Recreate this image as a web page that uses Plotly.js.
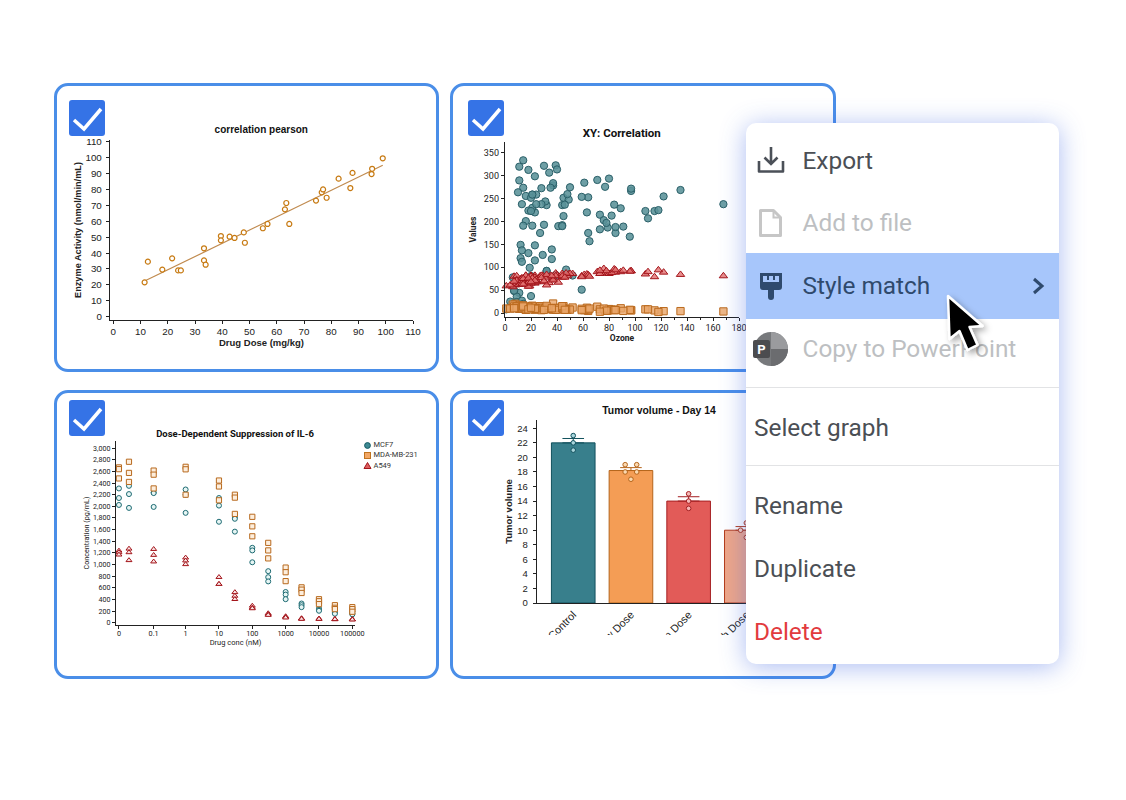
<!DOCTYPE html>
<html><head><meta charset="utf-8">
<script src="https://cdn.plot.ly/plotly-3.0.1.min.js"></script>
<style>
html,body{margin:0;padding:0;background:#fff;width:1126px;height:800px;overflow:hidden;font-family:Roboto,sans-serif}
.card{position:absolute;box-sizing:border-box;border:3px solid #4a8ee8;border-radius:14px;background:#fff;width:385px;height:289px}
.plot{position:absolute;overflow:hidden}
.chk{position:absolute;width:36px;height:36px;background:#3573e6;border-radius:3px;z-index:5}
.legend{position:absolute;left:362.500px;top:440px;font:7.500px Roboto,sans-serif;color:#333;z-index:6}
.legend div{height:10.400px;line-height:10.400px;display:flex;align-items:center}
.legend svg{width:9px;height:9px;margin-right:2px}
#menu{position:absolute;left:746px;top:123px;width:313px;height:541px;background:#fff;border-radius:10px;box-shadow:0 3px 26px rgba(55,95,225,.42);z-index:10}
.mi{position:absolute;font:24.400px Roboto,sans-serif;color:#4b4f55;line-height:30px;white-space:nowrap;transform:translateY(-50%)}
.dis{color:#bdbfc2}
#hl{position:absolute;left:0;top:130px;width:313px;height:66px;background:#a7c6fb}
.sep{position:absolute;left:0;width:313px;height:1px;background:#e2e3e5}
#over{position:absolute;left:0;top:0;z-index:20;pointer-events:none}
</style></head><body>
<div class="card" style="left:54px;top:83px"></div>
<div class="card" style="left:450px;top:83px;width:386px"></div>
<div class="card" style="left:54px;top:390px"></div>
<div class="card" style="left:450px;top:390px;width:386px"></div>
<div id="p1" class="plot"></div><div id="p2" class="plot"></div><div id="p3" class="plot"></div><div id="p4" class="plot"></div>
<div class="legend" id="lg"></div>
<div id="menu">
<div id="hl"></div>
<div class="mi" style="left:56.500px;top:37.500px">Export</div>
<div class="mi dis" style="left:56.500px;top:99.500px">Add to file</div>
<div class="mi" style="left:56.500px;top:162.500px;color:#2f4a6d">Style match</div>
<div class="mi dis" style="left:56.500px;top:225.500px">Copy to PowerPoint</div>
<div class="sep" style="top:264px"></div>
<div class="mi" style="left:8px;top:304.500px">Select graph</div>
<div class="sep" style="top:342px"></div>
<div class="mi" style="left:8px;top:382.500px">Rename</div>
<div class="mi" style="left:8px;top:445.500px">Duplicate</div>
<div class="mi" style="left:8px;top:508.500px;color:#e23b3e">Delete</div>
</div>
<svg id="over" width="1126" height="800" viewBox="0 0 1126 800">
<defs><filter id="cs" x="-50%" y="-50%" width="200%" height="200%"><feDropShadow dx="3" dy="3" stdDeviation="3" flood-color="#000" flood-opacity=".35"/></filter></defs>
<g fill="none" stroke="#4b5058" stroke-width="2.6">
<path d="M759 161v10.5h24V161" stroke-linejoin="round"/><path d="M771 147v17M764.5 157.500l6.500 6.500 6.500-6.500"/></g>
<path d="M760.500 210.500h13l7 7v18h-20z" fill="none" stroke="#c6c6c6" stroke-width="3" stroke-linejoin="round"/>
<path d="M773.500 210.500v7h7" fill="none" stroke="#c6c6c6" stroke-width="2"/>
<path d="M760 273h22v14a3 3 0 0 1-3 3h-5v7a3 3 0 0 1-6 0v-7h-5a3 3 0 0 1-3-3z" fill="#2f4a6d"/>
<rect x="763" y="276" width="16" height="6" fill="#a7c6fb"/><rect x="767" y="275" width="2" height="5" fill="#2f4a6d"/><rect x="773" y="275" width="2" height="5" fill="#2f4a6d"/>
<circle cx="771" cy="349" r="17" fill="#77797c"/><path d="M771 349V332a17 17 0 0 1 17 17z" fill="#9a9b9e"/><path d="M771 349h17a17 17 0 0 1-17 17z" fill="#6b6c6f"/>
<rect x="753" y="340" width="17" height="18" rx="2" fill="#4b4c4f"/>
<text x="761.500" y="354" text-anchor="middle" font-family="Roboto" font-weight="700" font-size="13" fill="#fff">P</text>
<path d="M1034 279l8 7-8 7" fill="none" stroke="#2f4a6d" stroke-width="3"/>
<path d="M948 296l1.500 43 10-8 8 19 10-5-8-18 13-1z" fill="#000" stroke="#fff" stroke-width="2.500" stroke-linejoin="round" filter="url(#cs)"/>
</svg>
<script>
// ---- Chart 1: correlation pearson
const doseX=[11.5,12.7,18,21.6,23.8,24.8,33.3,33.3,33.9,39.5,39.5,42.7,44.5,47.9,48.3,54.9,56.6,63,63.5,64.6,74.4,76.5,77,78.3,82.7,87,87.8,94.8,95,98.9];
const enzymeY=[21.6,34.6,29.6,36.7,29.1,29.1,43,35.4,32.7,50.7,48,50.3,49.5,53,46.5,55.6,58.3,67.5,71.5,58.3,73,78.2,80,74.8,86.8,80.9,90.4,89.7,93,99.6];
const fitX=[11.5,98.9];
const fitY=[22.4,95.2];
// ---- Chart 2: XY: Correlation
const ozone=[41,36,12,18,23,19,8,16,11,14,18,14,34,6,30,11,1,11,4,32,23,45,115,37,29,71,39,23,21,37,20,12,13,135,49,32,64,40,77,97,97,85,10,27,7,48,35,61,79,63,16,80,108,20,52,82,50,64,59,39,9,16,122,89,110,44,28,65,22,59,23,31,44,21,9,45,168,73,76,118,84,85,96,78,73,91,47,32,20,23,21,24,44,21,28,9,13,46,18,13,24,16,13,23,36,7,14,30,14,18,20];
const solar=[190,118,149,313,299,99,19,256,290,274,65,334,307,78,322,44,8,320,25,92,13,252,223,279,127,291,323,148,191,284,37,120,137,269,248,236,175,314,276,267,272,175,264,175,48,260,274,285,187,220,7,294,223,81,82,213,275,253,254,83,24,77,255,229,207,192,273,157,71,51,115,244,190,259,36,212,238,215,203,225,237,188,167,197,183,189,95,92,252,220,230,259,236,259,238,24,112,237,224,27,238,201,238,14,139,49,20,193,191,131,223];
const wind=[7.4,8,12.6,11.5,8.6,13.8,20.1,9.7,9.2,10.9,13.2,11.5,12,18.4,11.5,9.7,9.7,16.6,9.7,12,12,14.9,5.7,7.4,9.7,13.8,11.5,8,14.9,20.7,9.2,11.5,10.3,4.1,9.2,9.2,4.6,10.9,5.1,6.3,5.7,7.4,14.3,14.9,14.3,6.9,10.3,6.3,5.1,11.5,6.9,8.6,8,8.6,12,7.4,7.4,7.4,9.2,6.9,13.8,7.4,4,10.3,8,11.5,11.5,9.7,10.3,6.3,7.4,10.9,10.3,15.5,14.3,9.7,3.4,8,9.7,2.3,6.3,6.3,6.9,5.1,2.8,4.6,7.4,15.5,10.9,10.3,10.9,9.7,14.9,15.5,6.3,10.9,11.5,6.9,13.8,10.3,10.3,8,12.6,9.2,10.3,10.3,16.6,6.9,14.3,8,11.5];
const temp=[67,72,74,62,65,59,61,69,66,68,58,64,66,57,68,62,59,73,61,61,67,81,79,76,82,90,87,82,77,72,65,73,76,84,85,81,83,83,88,92,92,89,73,81,80,81,82,84,87,85,74,86,85,82,86,88,86,83,81,81,81,82,89,90,90,86,82,80,77,79,76,78,78,77,72,79,81,86,97,94,96,94,91,92,93,93,87,84,80,78,75,73,81,76,77,71,71,78,67,76,68,82,64,71,81,69,63,70,75,76,68];
// ---- Chart 3: Dose-Dependent Suppression of IL-6
const concPos=[0.01,0.02,0.11,1,10,30,100,300,1000,3000,10000,30000,100000];
const concTickVals=[0.01,0.11,1,10,100,1000,10000,100000];
const concTickText=["0","0.1","1","10","100","1000","10000","100000"];
const mcf7=[[2308,2143,2024],[2353,2211,1973],[2240,2228,1990],[2290,2200,1888],[2143,2013,1735],[1815,1786,1565],[1287,1242,1038],[885,782,709],[527,482,403],[329,300,266],[244,221,204],[198,176,153],[187,159,142]];
const mda=[[2670,2640,2480],[2767,2575,2420],[2615,2545,2308],[2680,2637,2200],[2444,2342,2104],[2200,2150,1870],[1820,1656,1485],[1372,1242,1105],[947,867,714],[607,567,510],[403,368,318],[300,255,232],[266,232,187]];
const a549=[[1236,1208,1168],[1270,1208,1072],[1264,1162,1049],[1117,1066,1003],[782,663,663],[522,459,403],[289,255,244],[159,142,130],[108,96,85],[74,68,62],[68,62,62],[62,57,57],[57,57,51]];
const cellLines=["MCF7","MDA-MB-231","A549"];
// ---- Chart 4: Tumor volume - Day 14
const groups=["Control","Low Dose","Medium Dose","High Dose"];
const groupMeans=[22,18.2,14,10];
const groupErr=[0.6,0.4,0.6,0.5];
const groupPtsY=[[23,22,21],[19,19,18,18,17],[15,14,13],[11,10,9]];
const groupPtsOff=[[0,0,0],[-0.1,0.1,-0.1,0.1,0],[0,0,0],[0,-0.1,0]];
const groupFill=["#387f8c","#f49d55","#e25b58","#efa688"];
const groupLine=["#12515d","#b5651b","#a51f22","#b33a1a"];
const groupPtFill=["#a8d5dc","#fbd9b0","#f6b9b6","#f8cfc0"];

const LIB='"Liberation Sans",Arial,sans-serif', RB='Roboto,sans-serif';
const INK='#222';
function lay(box,area,title,font,t,x,y,id){
  const [L,T,W,H]=box,[al,at,ar,ab]=area;
  const el=document.getElementById(id);
  el.style.left=L+'px';el.style.top=T+'px';el.style.width=W+'px';el.style.height=H+'px';
  return {
    width:W,height:H,paper_bgcolor:'rgba(0,0,0,0)',plot_bgcolor:'rgba(0,0,0,0)',showlegend:false,
    margin:{l:al-L,t:at-T,r:L+W-ar,b:T+H-ab,pad:0},
    font:{family:font,color:INK},
    title:{text:title,xref:'container',yref:'container',
      x:(t.x-L)/W,y:1-(t.y-T)/H,xanchor:'center',yanchor:'middle',
      font:{family:font,size:t.s,weight:t.w||700,color:'#111'}},
    xaxis:x,yaxis:y};
}
function ax(a){return Object.assign({showgrid:false,zeroline:false,showline:true,linecolor:'#222',linewidth:1.2,ticks:'outside',ticklen:3,tickcolor:'#222',tickwidth:1},a);}
const cfg={displayModeBar:false,staticPlot:true};

// 1
Plotly.newPlot('p1',[
 {x:fitX,y:fitY,mode:'lines',line:{color:'#c08a4e',width:1.2},hoverinfo:'skip'},
 {x:doseX,y:enzymeY,mode:'markers',marker:{symbol:'circle',size:5,color:'#fff',line:{color:'#c77a12',width:1.200}},cliponaxis:false}
],lay([60,95,372,265],[109.5,140,413.5,320],'correlation pearson',LIB,{x:261.3,y:129,s:10},
 ax({range:[-1.2,110],tickvals:[0,10,20,30,40,50,60,70,80,90,100,110],ticklabelstandoff:-1,tickfont:{size:9.800,family:LIB,color:INK},title:{text:'Drug Dose (mg/kg)',standoff:1,font:{family:LIB,size:9.500,weight:700,color:INK}}}),
 ax({range:[-2.08,111.1],tickvals:[0,10,20,30,40,50,60,70,80,90,100,110],ticklabelstandoff:2,tickfont:{size:9.800,family:LIB,color:INK},title:{text:'Enzyme Activity (nmol/min/mL)',standoff:2,font:{family:LIB,size:9.200,weight:700,color:INK}}}),
 'p1'),cfg);

// 2
const xyTrace=(y,sym,fill,line)=>({x:ozone,y:y,mode:'markers',cliponaxis:false,marker:{symbol:sym,size:7.300,color:fill,line:{color:line,width:1}}});
Plotly.newPlot('p2',[
 xyTrace(solar,'circle','rgba(90,146,152,.88)','#2a5f68'),
 xyTrace(temp,'triangle-up','rgba(226,112,112,.8)','#a3151b'),
 xyTrace(wind,'square','rgba(232,165,105,.8)','#bb6a1e')
],lay([460,125,300,225],[504.7,142.3,738.7,317.3],'XY: Correlation',RB,{x:621.7,y:132.7,s:11.500},
 ax({range:[0,180],tickvals:[0,20,40,60,80,100,120,140,160,180],minor:{dtick:10,ticks:'outside',ticklen:2,tickcolor:'#222',showgrid:false},ticklabelstandoff:-1,tickfont:{size:9,family:RB,color:INK},title:{text:'Ozone',standoff:2,font:{family:RB,size:8.500,weight:700,color:INK}}}),
 ax({range:[-8.750,374],tickvals:[0,50,100,150,200,250,300,350],tickfont:{size:9,family:RB,color:INK},title:{text:'Values',standoff:5,font:{family:RB,size:8.500,weight:700,color:INK}}}),
 'p2'),cfg);

// 3
const expand=m=>({x:concPos.flatMap((c,i)=>m[i].map(()=>c)),y:m.flat()});
const doseTrace=(m,sym,fill,line,sz)=>Object.assign(expand(m),{mode:'markers',cliponaxis:false,marker:{symbol:sym,size:sz,color:fill,line:{color:line,width:1}}});
Plotly.newPlot('p3',[
 doseTrace(mcf7,'circle','#e6f5f4','#1c6a72',5),
 doseTrace(mda,'square','#fdeedd','#b86a1f',5.200),
 doseTrace(a549,'triangle-up','#fbe4e4','#a3151b',5.200)
],lay([62,425,310,225],[115.700,441.300,354.700,624.700],'Dose-Dependent Suppression of IL-6',RB,{x:235,y:433.700,s:9.500},
 ax({type:'log',range:[-2.088,5.08],tickmode:'array',tickvals:concTickVals,ticktext:concTickText,ticklabelstandoff:-2,tickfont:{size:7.300,family:RB,color:INK},title:{text:'Drug conc (nM)',standoff:1,font:{family:RB,size:7.500,color:INK}}}),
 ax({range:[-40.8,3124],tickvals:[0,200,400,600,800,1000,1200,1400,1600,1800,2000,2200,2400,2600,2800,3000],tickformat:',d',tickfont:{size:7.100,family:RB,color:INK},title:{text:'Concentration (pg/mL)',standoff:2,font:{family:RB,size:7.200,color:INK}}}),
 'p3'),cfg);
const lgMarks=['<circle cx="4.500" cy="4.500" r="2.900" fill="#3f8a93" stroke="#145b64"/>','<rect x="1.500" y="1.500" width="6" height="6" fill="#f2a765" stroke="#c0731f"/>','<path d="M4.500 1.500L8 7.500H1z" fill="#dd5f5f" stroke="#a3151b"/>'];
document.getElementById('lg').innerHTML=cellLines.map((n,i)=>'<div><svg viewBox="0 0 9 9">'+lgMarks[i]+'</svg>'+n+'</div>').join('');

// 4
const barTraces=groups.map((g,i)=>({type:'bar',x:[i],y:[groupMeans[i]],width:0.756,marker:{color:groupFill[i],line:{color:groupLine[i],width:1}},
  error_y:{type:'data',symmetric:false,array:[groupErr[i]],arrayminus:[0],color:groupLine[i],thickness:1,width:10.800}}));
const ptTraces=groups.map((g,i)=>({x:groupPtsY[i].map((_,k)=>i+groupPtsOff[i][k]),y:groupPtsY[i],mode:'markers',cliponaxis:false,marker:{symbol:'circle',size:4.600,color:groupPtFill[i],line:{color:groupLine[i],width:1}}}));
Plotly.newPlot('p4',barTraces.concat(ptTraces),lay([480,396,320,239],[536.700,419.700,800,603],'Tumor volume - Day 14',LIB,{x:659,y:410,s:10.400},
 ax({range:[-0.628,3.93],tickmode:'array',tickvals:groups.map((_,i)=>i),ticktext:groups,ticks:'',tickangle:-45,tickfont:{size:10.800,family:LIB,color:INK}}),
 ax({range:[0,25.140],tickvals:[0,2,4,6,8,10,12,14,16,18,20,22,24],ticklabelstandoff:3,tickfont:{size:9.500,family:LIB,color:INK},title:{text:'Tumor volume',standoff:3,font:{family:LIB,size:9.500,weight:700,color:INK}}}),
 'p4'),cfg);

// check boxes
[[69,99.5],[468,99.5],[69,399.5],[468,399.5]].forEach(([l,t])=>{
  const d=document.createElement('div');d.className='chk';d.style.left=l+'px';d.style.top=t+'px';
  d.innerHTML='<svg width="36" height="36"><path d="M5 20l10 9L32 9" fill="none" stroke="#fff" stroke-width="3.500"/></svg>';
  document.body.appendChild(d);
});
</script>
</body></html>
